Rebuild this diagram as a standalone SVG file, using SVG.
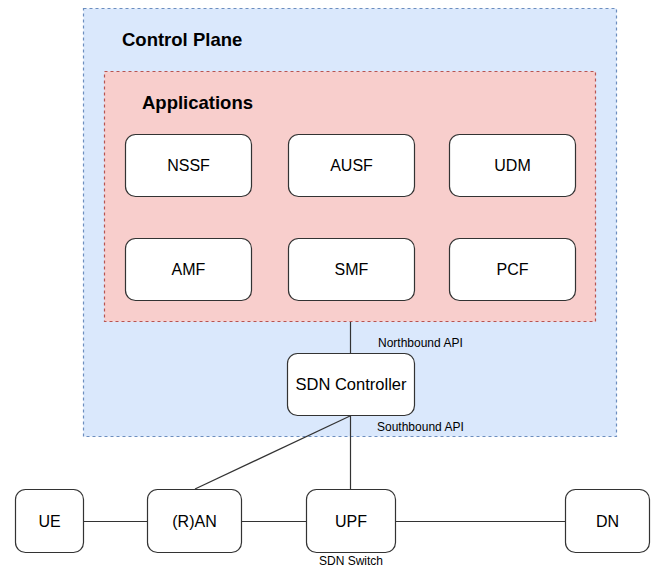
<svg xmlns="http://www.w3.org/2000/svg" width="656" height="568" viewBox="0 0 656 568">
<style>
.node rect{fill:#ffffff;stroke:#333333;stroke-width:1.2}
.node text{font-family:"Liberation Sans",Arial,sans-serif;font-size:16px;fill:#000;text-anchor:middle}
.title{font-family:"Liberation Sans",Arial,sans-serif;font-size:18.5px;font-weight:bold;fill:#000}
.lbl{font-family:"Liberation Sans",Arial,sans-serif;font-size:12px;fill:#000}
.edge{stroke:#333333;stroke-width:1.2;fill:none}
</style>
<rect width="656" height="568" fill="#ffffff"/>
<g id="control-plane">
<rect x="83.5" y="8.5" width="533" height="428" fill="#dae8fc" stroke="#6c8ebf" stroke-width="1.2" stroke-dasharray="3 3"/>
<text class="title" x="122" y="46">Control Plane</text>
</g>
<g id="applications">
<rect x="104.5" y="71.5" width="491" height="250" fill="#f8cecc" stroke="#b85450" stroke-width="1.2" stroke-dasharray="3 3"/>
<text class="title" x="142" y="109">Applications</text>
</g>
<g id="connectors">
<line class="edge" x1="350.5" y1="322" x2="350.5" y2="353"/>
<line class="edge" x1="350.5" y1="416" x2="350.5" y2="489"/>
<line class="edge" x1="350" y1="416" x2="195" y2="489"/>
<line class="edge" x1="83" y1="521.5" x2="147" y2="521.5"/>
<line class="edge" x1="241" y1="521.5" x2="306" y2="521.5"/>
<line class="edge" x1="395" y1="521.5" x2="565" y2="521.5"/>
</g>
<g id="nssf" class="node"><rect x="125.5" y="134.5" width="126" height="62" rx="10"/><text x="188.5" y="171">NSSF</text></g>
<g id="ausf" class="node"><rect x="288.5" y="134.5" width="126" height="62" rx="10"/><text x="351.5" y="171">AUSF</text></g>
<g id="udm" class="node"><rect x="449.5" y="134.5" width="126" height="62" rx="10"/><text x="512.5" y="171">UDM</text></g>
<g id="amf" class="node"><rect x="125.5" y="238.5" width="126" height="62" rx="10"/><text x="188.5" y="275">AMF</text></g>
<g id="smf" class="node"><rect x="288.5" y="238.5" width="126" height="62" rx="10"/><text x="351.5" y="275">SMF</text></g>
<g id="pcf" class="node"><rect x="449.5" y="238.5" width="126" height="62" rx="10"/><text x="512.5" y="275">PCF</text></g>
<g id="sdn-controller" class="node"><rect x="287.5" y="353.5" width="127" height="62" rx="10"/><text x="351" y="390" style="font-size:16.5px">SDN Controller</text></g>
<g id="ue" class="node"><rect x="15.5" y="489.5" width="68" height="63" rx="10"/><text x="49.5" y="527">UE</text></g>
<g id="ran" class="node"><rect x="147.5" y="489.5" width="94" height="63" rx="10"/><text x="194.5" y="527">(R)AN</text></g>
<g id="upf" class="node"><rect x="306.5" y="489.5" width="89" height="63" rx="10"/><text x="351" y="527">UPF</text></g>
<g id="dn" class="node"><rect x="565.5" y="489.5" width="84" height="63" rx="10"/><text x="607.5" y="527">DN</text></g>
<g id="labels">
<text class="lbl" x="378" y="347">Northbound API</text>
<text class="lbl" x="377" y="431">Southbound API</text>
<text class="lbl" x="351" y="565" text-anchor="middle">SDN Switch</text>
</g>
</svg>
